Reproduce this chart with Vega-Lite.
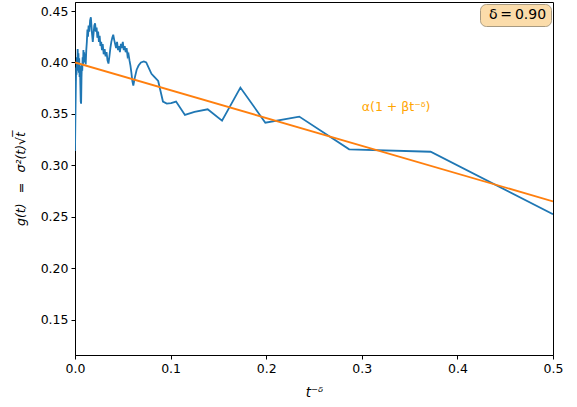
{
  "$schema": "https://vega.github.io/schema/vega-lite/v6.json",
  "width": 478,
  "height": 353,
  "autosize": "none",
  "padding": {"left": 75, "top": 2, "right": 24, "bottom": 52},
  "background": "white",
  "config": {
    "font": "DejaVu Sans",
    "view": {"stroke": "black", "strokeWidth": 1},
    "axis": {
      "grid": false,
      "domainColor": "black",
      "tickColor": "black",
      "labelColor": "black",
      "titleColor": "black",
      "labelFontSize": 12.5,
      "titleFontSize": 12.5,
      "titleFontWeight": "normal",
      "tickSize": 4,
      "labelPadding": 3,
      "labelFlush": false
    }
  },
  "datasets": {
    "g": [
      {"x": 0.0000, "y": 0.314},
      {"x": 0.0004, "y": 0.345},
      {"x": 0.0008, "y": 0.372},
      {"x": 0.0012, "y": 0.395},
      {"x": 0.0016, "y": 0.388},
      {"x": 0.0020, "y": 0.405},
      {"x": 0.0024, "y": 0.392},
      {"x": 0.0028, "y": 0.413},
      {"x": 0.0032, "y": 0.398},
      {"x": 0.0036, "y": 0.409},
      {"x": 0.0040, "y": 0.390},
      {"x": 0.0044, "y": 0.404},
      {"x": 0.0048, "y": 0.386},
      {"x": 0.0052, "y": 0.397},
      {"x": 0.0056, "y": 0.378},
      {"x": 0.0060, "y": 0.362},
      {"x": 0.0064, "y": 0.360},
      {"x": 0.0068, "y": 0.385},
      {"x": 0.0072, "y": 0.398},
      {"x": 0.0076, "y": 0.392},
      {"x": 0.0080, "y": 0.405},
      {"x": 0.0084, "y": 0.398},
      {"x": 0.0088, "y": 0.412},
      {"x": 0.0092, "y": 0.404},
      {"x": 0.0096, "y": 0.410},
      {"x": 0.0100, "y": 0.400},
      {"x": 0.0106, "y": 0.408},
      {"x": 0.0112, "y": 0.398},
      {"x": 0.0118, "y": 0.412},
      {"x": 0.0124, "y": 0.420},
      {"x": 0.0130, "y": 0.432},
      {"x": 0.0136, "y": 0.425},
      {"x": 0.0142, "y": 0.436},
      {"x": 0.0150, "y": 0.430},
      {"x": 0.0158, "y": 0.441},
      {"x": 0.0166, "y": 0.444},
      {"x": 0.0172, "y": 0.436},
      {"x": 0.0178, "y": 0.428},
      {"x": 0.0186, "y": 0.420},
      {"x": 0.0194, "y": 0.428},
      {"x": 0.0202, "y": 0.436},
      {"x": 0.0210, "y": 0.438},
      {"x": 0.0218, "y": 0.430},
      {"x": 0.0226, "y": 0.434},
      {"x": 0.0234, "y": 0.424},
      {"x": 0.0242, "y": 0.430},
      {"x": 0.0250, "y": 0.420},
      {"x": 0.0258, "y": 0.426},
      {"x": 0.0266, "y": 0.416},
      {"x": 0.0274, "y": 0.420},
      {"x": 0.0282, "y": 0.412},
      {"x": 0.0290, "y": 0.418},
      {"x": 0.0300, "y": 0.408},
      {"x": 0.0310, "y": 0.413},
      {"x": 0.0320, "y": 0.406},
      {"x": 0.0330, "y": 0.410},
      {"x": 0.0340, "y": 0.402},
      {"x": 0.0350, "y": 0.399},
      {"x": 0.0360, "y": 0.406},
      {"x": 0.0370, "y": 0.414},
      {"x": 0.0380, "y": 0.420},
      {"x": 0.0390, "y": 0.424},
      {"x": 0.0400, "y": 0.427},
      {"x": 0.0410, "y": 0.422},
      {"x": 0.0420, "y": 0.418},
      {"x": 0.0430, "y": 0.414},
      {"x": 0.0440, "y": 0.420},
      {"x": 0.0450, "y": 0.412},
      {"x": 0.0460, "y": 0.416},
      {"x": 0.0470, "y": 0.410},
      {"x": 0.0480, "y": 0.418},
      {"x": 0.0490, "y": 0.414},
      {"x": 0.0500, "y": 0.420},
      {"x": 0.0510, "y": 0.412},
      {"x": 0.0520, "y": 0.416},
      {"x": 0.0530, "y": 0.410},
      {"x": 0.0540, "y": 0.414},
      {"x": 0.0550, "y": 0.406},
      {"x": 0.0560, "y": 0.408},
      {"x": 0.0570, "y": 0.402},
      {"x": 0.0580, "y": 0.397},
      {"x": 0.0590, "y": 0.390},
      {"x": 0.0600, "y": 0.382},
      {"x": 0.0610, "y": 0.3775},
      {"x": 0.0625, "y": 0.385},
      {"x": 0.0645, "y": 0.393},
      {"x": 0.0665, "y": 0.397},
      {"x": 0.0690, "y": 0.400},
      {"x": 0.0720, "y": 0.401},
      {"x": 0.0745, "y": 0.400},
      {"x": 0.0770, "y": 0.395},
      {"x": 0.0800, "y": 0.389},
      {"x": 0.0830, "y": 0.386},
      {"x": 0.0870, "y": 0.382},
      {"x": 0.0895, "y": 0.372},
      {"x": 0.0920, "y": 0.362},
      {"x": 0.0960, "y": 0.360},
      {"x": 0.1005, "y": 0.3605},
      {"x": 0.1057, "y": 0.362},
      {"x": 0.1150, "y": 0.349},
      {"x": 0.1250, "y": 0.352},
      {"x": 0.1388, "y": 0.3545},
      {"x": 0.1538, "y": 0.3435},
      {"x": 0.1730, "y": 0.3756},
      {"x": 0.1991, "y": 0.3415},
      {"x": 0.2346, "y": 0.3474},
      {"x": 0.2868, "y": 0.3156},
      {"x": 0.3720, "y": 0.3132},
      {"x": 0.5000, "y": 0.2525}
    ],
    "fit": [
      {"x": 0.0, "y": 0.400},
      {"x": 0.5, "y": 0.265}
    ],
    "ann": [
      {"x": 0.300, "y": 0.3565, "label": "α(1 + βt⁻ᵟ)"}
    ],
    "box": [
      {"k": "δ = 0.90"}
    ]
  },
  "layer": [
    {
      "data": {"name": "g"},
      "mark": {"type": "line", "color": "#1f77b4", "strokeWidth": 1.8, "clip": true},
      "encoding": {
        "x": {
          "field": "x", "type": "quantitative",
          "scale": {"domain": [0, 0.5], "nice": false, "zero": false},
          "axis": {"values": [0, 0.1, 0.2, 0.3, 0.4, 0.5], "format": ".1f", "title": "t⁻ᵟ", "titleFontStyle": "italic", "titleFontSize": 13.5, "titlePadding": 11}
        },
        "y": {
          "field": "y", "type": "quantitative",
          "scale": {"domain": [0.1156, 0.4588], "nice": false, "zero": false},
          "axis": {"values": [0.15, 0.2, 0.25, 0.3, 0.35, 0.4, 0.45], "format": ".2f", "title": "g(t)  \u2002=\u2002  σ²(t)√t̅", "titleFontStyle": "italic", "titlePadding": 13}
        }
      }
    },
    {
      "data": {"name": "fit"},
      "mark": {"type": "line", "color": "#ff7f0e", "strokeWidth": 1.8, "clip": true},
      "encoding": {
        "x": {"field": "x", "type": "quantitative"},
        "y": {"field": "y", "type": "quantitative"}
      }
    },
    {
      "data": {"name": "ann"},
      "mark": {"type": "text", "color": "#ffa500", "fontSize": 12.5, "align": "left", "baseline": "middle"},
      "encoding": {
        "x": {"field": "x", "type": "quantitative"},
        "y": {"field": "y", "type": "quantitative"},
        "text": {"field": "label"}
      }
    },
    {
      "data": {"name": "box"},
      "mark": {"type": "point", "opacity": 0, "size": 0},
      "encoding": {
        "color": {
          "field": "k", "type": "nominal",
          "scale": {"range": ["#fbdcaa"]},
          "legend": {
            "orient": "top-right", "offset": 2, "title": null,
            "fillColor": "#fbdcaa", "strokeColor": "#a89a80", "cornerRadius": 6,
            "padding": 4, "symbolSize": 0, "symbolOpacity": 0, "symbolStrokeWidth": 0,
            "labelOffset": -9, "labelFontSize": 14, "labelColor": "black",
            "labelExpr": "'δ\u2009=\u20090.90'"
          }
        }
      }
    }
  ]
}
